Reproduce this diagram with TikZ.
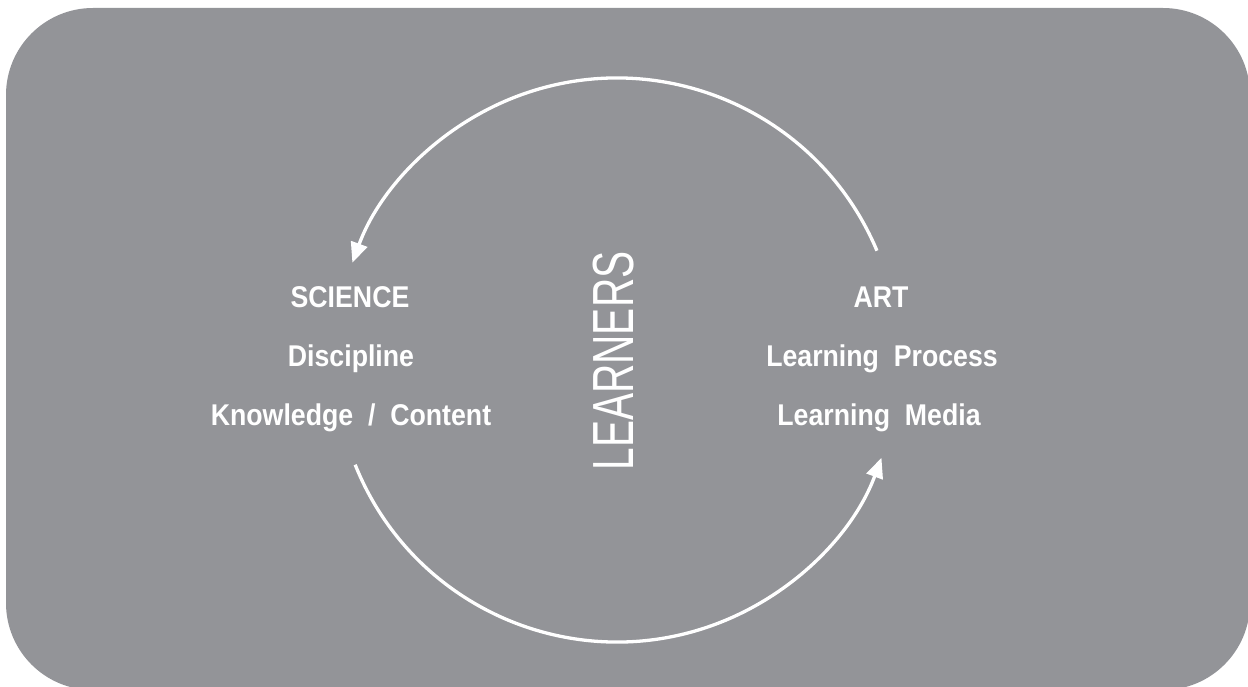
\documentclass[tikz,border=0pt]{standalone}
\usepackage{fontspec}
\usetikzlibrary{arrows.meta,calc}
\newfontfamily\condfont[FakeStretch=0.89,WordSpace=2.0]{Liberation Sans}
\newfontfamily\narrowfont[FakeStretch=0.7]{Liberation Sans}
\definecolor{panelgray}{HTML}{939498}
\tikzset{
  lbl/.style={text=white,font=\condfont\bfseries\fontsize{30}{36}\selectfont,anchor=base,inner sep=0pt},
  cycle/.style={draw=white,line width=3.3pt,-{Triangle[length=20pt,width=17pt]}}
}
\begin{document}
\begin{tikzpicture}[x=1pt,y=-1pt]
\useasboundingbox (0,0) rectangle (1248,687);
\fill[panelgray,rounded corners=87pt] (6,8) rectangle (1250,690);
\coordinate (c) at (617,360);
\coordinate (topstart) at ($(c)+(-22.8:282)$);
\coordinate (botstart) at ($(c)+(-201.8:282)$);
\draw[cycle] (topstart) arc[start angle=-22.8,end angle=-159.8,radius=282];
\draw[cycle] (botstart) arc[start angle=-201.8,end angle=-339.7,radius=282];
\node[lbl] (sci) at (350,307) {SCIENCE};
\node[lbl] (disc) at (351,366) {Discipline};
\node[lbl] (know) at (351,425) {Knowledge / Content};
\node[lbl] (art) at (881,307) {ART};
\node[lbl] (proc) at (882,366) {Learning Process};
\node[lbl] (media) at (879,425) {Learning Media};
\node[text=white,font=\narrowfont\fontsize{58}{60}\selectfont,rotate=90,inner sep=0pt] (learn) at (614,361) {LEARNERS};
\end{tikzpicture}
\end{document}
